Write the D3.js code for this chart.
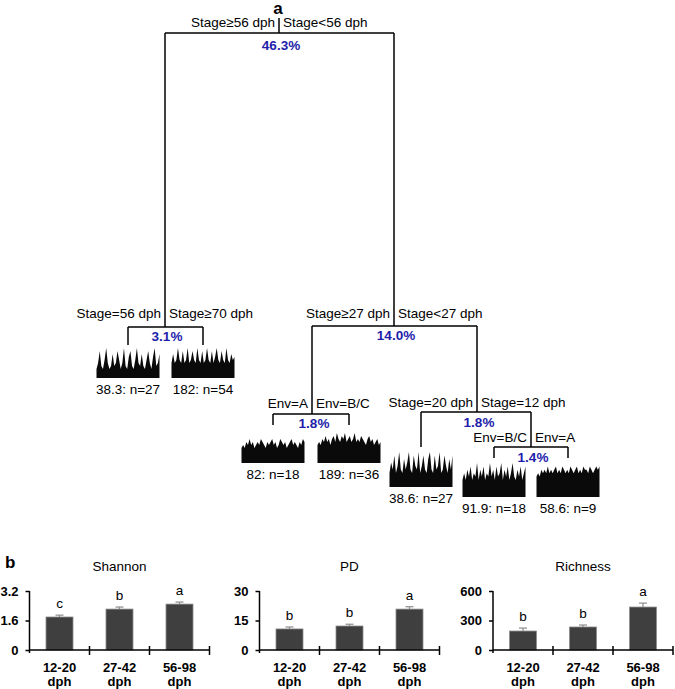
<!DOCTYPE html>
<html>
<head>
<meta charset="utf-8">
<script src="https://cdn.jsdelivr.net/npm/d3@7"></script>
<style>
  html, body { margin: 0; padding: 0; background: #fff; }
  svg { display: block; font-family: "Liberation Sans", Arial, sans-serif; }
</style>
</head>
<body>
<svg id="chart" width="675" height="689"></svg>
<script>
// ---------------- DATA ----------------
// Tree splits: labels on the left / right branches and explained variance
const splitIds    = ["root", "A", "B", "C", "D", "E"];
const splitLeft   = ["Stage≥56 dph", "Stage=56 dph", "Stage≥27 dph", "Env=A", "Stage=20 dph", "Env=B/C"];
const splitRight  = ["Stage<56 dph", "Stage≥70 dph", "Stage<27 dph", "Env=B/C", "Stage=12 dph", "Env=A"];
const splitPct    = ["46.3%", "3.1%", "14.0%", "1.8%", "1.8%", "1.4%"];

// Leaves: error value and group size
const leafLabels = ["38.3: n=27", "182: n=54", "82: n=18", "189: n=36", "38.6: n=27", "91.9: n=18", "58.6: n=9"];

// Leaf thumbnails (relative abundance profiles, 0-10)
const thumb1 = [3,5,9,4,3,6,10,5,3,4,8,4,5,9,6,3,5,10,4,3,7,9,4,3,6,10,5,4,8,4,3,6,9,5,3,7,10,4,5,8];
const thumb2 = [5,8,5,6,10,6,5,9,5,6,10,5,6,9,6,5,10,6,5,9,5,6,10,6,5,9,5,7,10,6,5,9,6,5,10,6,5,8,6,7];
const thumb3 = [5,6,5,7,6,8,6,7,5,6,7,6,8,7,6,5,7,6,7,8,6,7,5,6,8,7,6,7,5,6,7,8,6,7,6,5,7,6,8,7];
const thumb4 = [6,7,6,8,7,9,7,8,6,8,9,7,10,8,7,9,8,10,7,8,9,7,8,10,7,8,7,9,8,7,6,8,9,7,8,6,7,8,6,7];
const thumb5 = [4,7,5,9,4,6,10,5,4,8,5,7,10,5,4,9,6,5,10,4,6,9,5,4,8,10,5,4,9,5,6,10,4,5,9,6,4,8,5,9];
const thumb6 = [5,7,5,8,6,9,5,7,6,10,5,8,6,9,5,7,6,10,6,8,5,9,6,7,10,5,8,6,9,5,7,10,6,5,8,6,9,5,7,9];
const thumb7 = [6,7,6,8,7,8,7,9,7,8,7,8,9,7,8,7,9,8,7,8,7,9,8,7,8,9,7,8,7,9,8,8,7,9,8,7,8,9,8,9];

// Panel b
const ageGroups   = ["12-20 dph", "27-42 dph", "56-98 dph"];
const shannonMean = [1.79, 2.22, 2.49];
const shannonErr  = [0.10, 0.11, 0.11];
const shannonSig  = ["c", "b", "a"];
const shannonTicks = [0, 1.6, 3.2];
const pdMean = [10.7, 12.2, 20.8];
const pdErr  = [1.0, 0.9, 1.2];
const pdSig  = ["b", "b", "a"];
const pdTicks = [0, 15, 30];
const richMean = [193, 234, 437];
const richErr  = [30, 20, 40];
const richSig  = ["b", "b", "a"];
const richTicks = [0, 300, 600];
const metricNames = ["Shannon", "PD", "Richness"];

// ---------------- DRAW ----------------
const svg = d3.select("#chart");
const BLUE = "#1e1eaa";
const LW = 1.5;
const FS = 13.5;

svg.append("text").attr("x", 278).attr("y", 14).attr("text-anchor", "middle")
  .attr("font-size", 17).attr("font-weight", "bold").text("a");

// tree layout (diagram geometry)
const layout = {
  root: {x: 279, top: 18, y: 33, lx: 165, rx: 394, lab: 6,  pct: 17},
  A:    {x: 165, y: 327, lx: 128, rx: 203, lab: 9, pct: 14},
  B:    {x: 394, y: 326, lx: 312, rx: 477, lab: 8, pct: 14},
  C:    {x: 312, y: 414, lx: 273, rx: 349, lab: 6, pct: 14},
  D:    {x: 477, y: 412, lx: 421, rx: 531, lab: 5, pct: 15},
  E:    {x: 531, y: 447, lx: 494, rx: 568, lab: 5, pct: 15}
};
const parentOf = {A: "root", B: "root", C: "B", D: "B", E: "D"};
const leaves = [
  {x: 128, from: "A", drop: 345, top: 348, h: 30, data: thumb1},
  {x: 203, from: "A", drop: 345, top: 348, h: 30, data: thumb2},
  {x: 273, from: "C", drop: 425, top: 433, h: 30, data: thumb3},
  {x: 349, from: "C", drop: 425, top: 433, h: 30, data: thumb4},
  {x: 421, from: "D", drop: 447, top: 452, h: 35, data: thumb5},
  {x: 494, from: "E", drop: 458, top: 463, h: 34, data: thumb6},
  {x: 568, from: "E", drop: 458, top: 463, h: 34, data: thumb7}
];

const tree = svg.append("g").attr("stroke", "#000").attr("stroke-width", LW).attr("fill", "none");
splitIds.forEach((id, i) => {
  const n = layout[id];
  const topY = id === "root" ? n.top : layout[parentOf[id]].y;
  tree.append("line").attr("x1", n.x).attr("x2", n.x).attr("y1", topY).attr("y2", n.y);
  tree.append("line").attr("x1", n.lx).attr("x2", n.rx).attr("y1", n.y).attr("y2", n.y);
  svg.append("text").attr("x", n.x - 4).attr("y", n.y - n.lab).attr("text-anchor", "end")
    .attr("font-size", FS).text(splitLeft[i]);
  svg.append("text").attr("x", n.x + 4).attr("y", n.y - n.lab).attr("text-anchor", "start")
    .attr("font-size", FS).text(splitRight[i]);
  svg.append("text").attr("x", n.x + 2).attr("y", n.y + n.pct).attr("text-anchor", "middle")
    .attr("font-size", FS).attr("font-weight", "bold").attr("fill", BLUE).text(splitPct[i]);
});

const TW = 63;
leaves.forEach((lf, i) => {
  const parentY = layout[lf.from].y;
  tree.append("line").attr("x1", lf.x).attr("x2", lf.x).attr("y1", parentY).attr("y2", lf.drop);
  const xs = d3.scaleLinear().domain([0, lf.data.length - 1]).range([lf.x - TW / 2, lf.x + TW / 2]);
  const ys = d3.scaleLinear().domain([0, 10]).range([lf.top + lf.h, lf.top]);
  const area = d3.area().x((d, j) => xs(j)).y0(ys(0)).y1(d => ys(d));
  svg.append("path").datum(lf.data).attr("d", area).attr("fill", "#0a0a0a");
  svg.append("text").attr("x", lf.x).attr("y", lf.top + lf.h + 16).attr("text-anchor", "middle")
    .attr("font-size", FS).text(leafLabels[i]);
});

// ---------------- Panel b ----------------
svg.append("text").attr("x", 5).attr("y", 568).attr("font-size", 17).attr("font-weight", "bold").text("b");

const panels = [
  {x0: 29.5, mean: shannonMean, err: shannonErr, sig: shannonSig, ticks: shannonTicks, fmt: d => d === 0 ? "0" : d3.format(".1f")(d)},
  {x0: 259.5, mean: pdMean, err: pdErr, sig: pdSig, ticks: pdTicks, fmt: d3.format("d")},
  {x0: 493, mean: richMean, err: richErr, sig: richSig, ticks: richTicks, fmt: d3.format("d")}
];
const PY0 = 650, PY1 = 591, PW = 180;

panels.forEach((p, k) => {
  const g = svg.append("g").attr("transform", `translate(${p.x0},0)`);
  const x = d3.scaleBand().domain(ageGroups).range([0, PW]).paddingInner(0.55).paddingOuter(0.275);
  const y = d3.scaleLinear().domain([0, p.ticks[p.ticks.length - 1]]).range([PY0, PY1]);

  g.append("text").attr("x", PW / 2).attr("y", 571).attr("text-anchor", "middle")
    .attr("font-size", FS).text(metricNames[k]);

  // bars
  g.selectAll("rect.bar").data(ageGroups).join("rect")
    .attr("x", d => x(d)).attr("width", x.bandwidth())
    .attr("y", (d, i) => y(p.mean[i])).attr("height", (d, i) => PY0 - y(p.mean[i]))
    .attr("fill", "#3f3f3f").attr("stroke", "#8c8c8c").attr("stroke-width", 0.8);

  // error bars (upper)
  ageGroups.forEach((d, i) => {
    const cx = x(d) + x.bandwidth() / 2;
    const yt = y(p.mean[i] + p.err[i]);
    g.append("line").attr("x1", cx).attr("x2", cx).attr("y1", y(p.mean[i])).attr("y2", yt)
      .attr("stroke", "#8c8c8c").attr("stroke-width", 1.2);
    g.append("line").attr("x1", cx - 4).attr("x2", cx + 4).attr("y1", yt).attr("y2", yt)
      .attr("stroke", "#8c8c8c").attr("stroke-width", 1.2);
    g.append("text").attr("x", cx).attr("y", yt - 7).attr("text-anchor", "middle")
      .attr("font-size", FS).text(p.sig[i]);
    const parts = d.split(" ");
    g.append("text").attr("x", cx).attr("y", 672).attr("text-anchor", "middle")
      .attr("font-size", 13).attr("font-weight", "bold").text(parts[0]);
    g.append("text").attr("x", cx).attr("y", 686).attr("text-anchor", "middle")
      .attr("font-size", 13).attr("font-weight", "bold").text(parts[1]);
  });

  // y axis
  const ya = g.append("g").call(d3.axisLeft(y).tickValues(p.ticks).tickFormat(p.fmt).tickSize(4).tickPadding(7));
  ya.select(".domain").attr("d", `M0,${PY1}V${PY0 + 3}`).attr("stroke-width", LW);
  ya.selectAll(".tick line").attr("stroke-width", LW);
  ya.selectAll(".tick text").attr("font-size", 13).attr("font-weight", "bold")
    .attr("font-family", "Liberation Sans, Arial, sans-serif").attr("fill", "#000");

  // x axis with separator ticks at band boundaries
  g.append("line").attr("x1", 0).attr("x2", PW).attr("y1", PY0).attr("y2", PY0)
    .attr("stroke", "#000").attr("stroke-width", LW);
  ageGroups.forEach((d, i) => {
    const bx = x(d) + x.bandwidth() / 2 + x.step() / 2;
    g.append("line").attr("x1", bx).attr("x2", bx).attr("y1", PY0 - 4).attr("y2", PY0 + 5)
      .attr("stroke", "#000").attr("stroke-width", LW);
  });
});
</script>
</body>
</html>
